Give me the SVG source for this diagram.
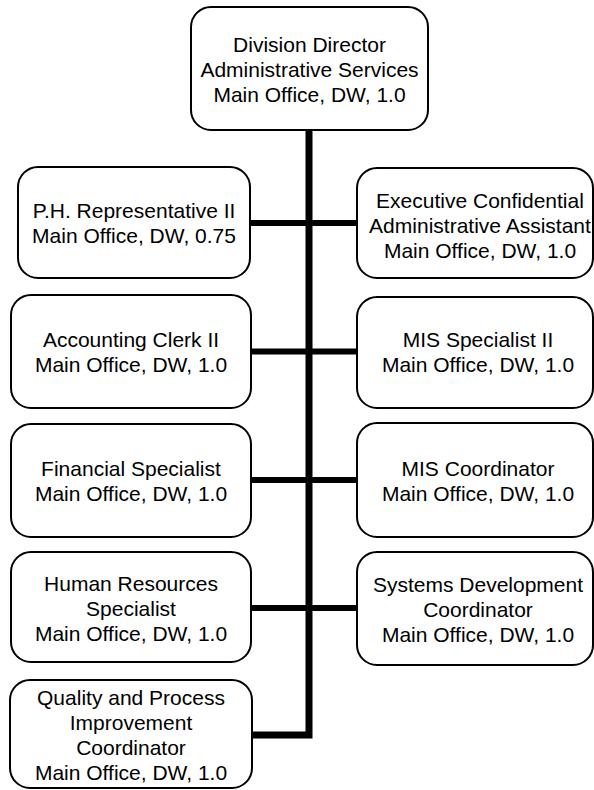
<svg xmlns="http://www.w3.org/2000/svg" width="594" height="790" viewBox="0 0 594 790">
<style>
.box{fill:#fff;stroke:#000;stroke-width:2}
.t{font-family:"Liberation Sans",Arial,sans-serif;font-size:21px;fill:#000;text-anchor:middle}
.c{fill:none;stroke:#000;stroke-width:6}
.trunk{fill:none;stroke:#000;stroke-width:7;stroke-linejoin:miter}
</style>
<rect width="594" height="790" fill="#fff"/>
<g id="connectors">
<path class="trunk" d="M309,130 V735 H252"/>
<path class="c" d="M250,223 H357"/>
<path class="c" d="M251,351.5 H357"/>
<path class="c" d="M251,480 H357"/>
<path class="c" d="M251,608 H357"/>
</g>
<g id="n-director">
<rect class="box" x="191" y="7" width="237" height="123" rx="20"/>
<text class="t" x="309.5" y="52">Division Director</text>
<text class="t" x="309.5" y="77">Administrative Services</text>
<text class="t" x="309.5" y="102">Main Office, DW, 1.0</text>
</g>
<g id="n-ph">
<rect class="box" x="18" y="167" width="232" height="111" rx="20"/>
<text class="t" x="134" y="218">P.H. Representative II</text>
<text class="t" x="134" y="243">Main Office, DW, 0.75</text>
</g>
<g id="n-exec">
<rect class="box" x="357" y="168" width="236" height="110" rx="20"/>
<text class="t" x="480" y="208">Executive Confidential</text>
<text class="t" x="480" y="233">Administrative Assistant</text>
<text class="t" x="480" y="258">Main Office, DW, 1.0</text>
</g>
<g id="n-acct">
<rect class="box" x="11" y="295" width="240" height="113" rx="20"/>
<text class="t" x="131" y="347">Accounting Clerk II</text>
<text class="t" x="131" y="372">Main Office, DW, 1.0</text>
</g>
<g id="n-mis-spec">
<rect class="box" x="357" y="297" width="236" height="111" rx="20"/>
<text class="t" x="478" y="347">MIS Specialist II</text>
<text class="t" x="478" y="372">Main Office, DW, 1.0</text>
</g>
<g id="n-fin">
<rect class="box" x="11" y="424" width="240" height="113" rx="20"/>
<text class="t" x="131" y="476">Financial Specialist</text>
<text class="t" x="131" y="501">Main Office, DW, 1.0</text>
</g>
<g id="n-mis-coord">
<rect class="box" x="357" y="423" width="236" height="114" rx="20"/>
<text class="t" x="478" y="476">MIS Coordinator</text>
<text class="t" x="478" y="501">Main Office, DW, 1.0</text>
</g>
<g id="n-hr">
<rect class="box" x="11" y="552" width="240" height="110" rx="20"/>
<text class="t" x="131" y="590.5">Human Resources</text>
<text class="t" x="131" y="615.5">Specialist</text>
<text class="t" x="131" y="640.5">Main Office, DW, 1.0</text>
</g>
<g id="n-sys">
<rect class="box" x="357" y="552" width="236" height="113" rx="20"/>
<text class="t" x="478" y="592">Systems Development</text>
<text class="t" x="478" y="617">Coordinator</text>
<text class="t" x="478" y="642">Main Office, DW, 1.0</text>
</g>
<g id="n-quality">
<rect class="box" x="10" y="680" width="242" height="108" rx="20"/>
<text class="t" x="131" y="705">Quality and Process</text>
<text class="t" x="131" y="730">Improvement</text>
<text class="t" x="131" y="755">Coordinator</text>
<text class="t" x="131" y="780">Main Office, DW, 1.0</text>
</g>
</svg>
